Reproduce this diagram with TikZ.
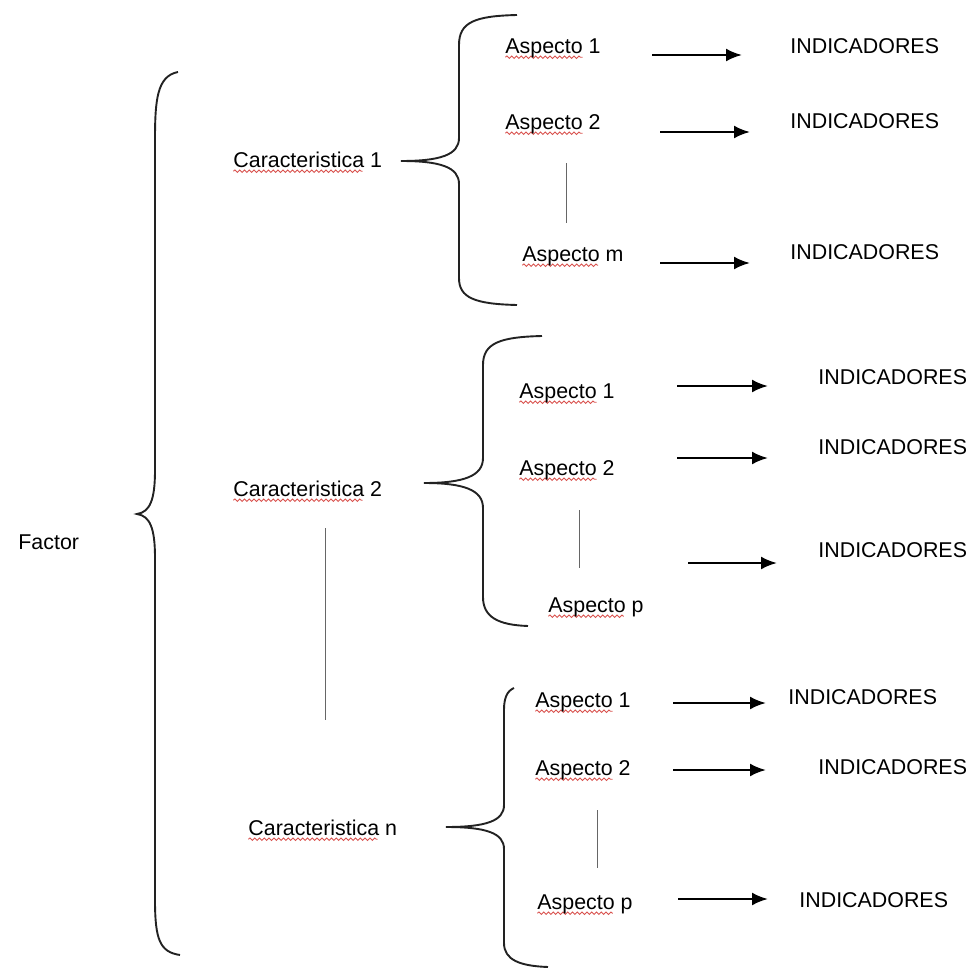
\documentclass[tikz,border=0pt]{standalone}
\usepackage{fontspec}
\setmainfont{Liberation Sans}
\usepackage{xcolor}
\usetikzlibrary{arrows.meta, calc, decorations.pathmorphing}
\definecolor{ink}{HTML}{222222}
\definecolor{rulegray}{HTML}{666666}
\definecolor{spellred}{HTML}{D9534F}

\begin{document}
\begin{tikzpicture}[x=0.5pt, y=-0.5pt,
    lbl/.style={anchor=west, inner sep=1pt, text height=7.6pt, text depth=2.4pt, font=\fontsize{10.7}{12}\selectfont},
    spell/.style={lbl, path picture={\draw[spellred, line width=0.45pt, decorate, decoration={snake, amplitude=0.6pt, segment length=2.4pt}]
        ($(path picture bounding box.south west)+(1pt,1.4pt)$) -- ($(path picture bounding box.south west)!#1!(path picture bounding box.south east)+(0,1.4pt)$);}},
    spell/.default=0.8,
    brc/.style={draw=ink, line width=0.95pt},
    vline/.style={draw=rulegray, line width=0.5pt},
    arr/.style={-{Latex[length=8pt, width=6.5pt]}, line width=1.2pt}
]
    \useasboundingbox (0,0) rectangle (976,969);

    \node[lbl] (fac) at (16,544) {Factor};
    \node[spell=0.86] (c1) at (231,162) {Caracteristica 1};
    \node[spell=0.86] (c2) at (231,491) {Caracteristica 2};
    \node[spell=0.86] (cn) at (246,830) {Caracteristica n};

    % braces
    \draw[brc] (178,72) .. controls (157,76) and (155,100) .. (155,140) -- (155,470) .. controls (155,500) and (150,512) .. (137,514)
        .. controls (150,516) and (155,528) .. (155,558) -- (155,900) .. controls (155,940) and (160,952) .. (180,955);
    \draw[brc] (517,15) .. controls (475,16) and (459,22) .. (459,45) -- (459,138) .. controls (459,155) and (440,161) .. (401,161)
        .. controls (440,161) and (459,167) .. (459,184) -- (459,278) .. controls (459,298) and (475,304) .. (517,305);
    \draw[brc] (542,336) .. controls (500,337) and (483,343) .. (483,365) -- (483,458) .. controls (483,476) and (464,483) .. (424,483)
        .. controls (464,483) and (483,490) .. (483,508) -- (483,597) .. controls (483,617) and (498,625) .. (528,626);
    \draw[brc] (514,688) .. controls (507,691) and (504,698) .. (504,710) -- (504,805) .. controls (504,821) and (486,827) .. (446,827)
        .. controls (486,827) and (504,833) .. (504,849) -- (504,943) .. controls (504,960) and (520,966) .. (548,967);

    \coordinate (d0a) at (325,528);
    \coordinate (d0b) at (325,720);
    \draw[vline] (d0a) -- (d0b);

    % caracteristica 1
    \node[spell] (a11) at (503,48) {Aspecto 1};
    \node[spell] (a12) at (503,124) {Aspecto 2};
    \node[spell=0.74] (a1m) at (520,256) {Aspecto m};
    \node[lbl] (i11) at (788,48) {INDICADORES};
    \node[lbl] (i12) at (788,123) {INDICADORES};
    \node[lbl] (i1m) at (788,254) {INDICADORES};
    \coordinate (t11) at (652,55);
    \coordinate (h11) at (742,55);
    \coordinate (t12) at (660,132);
    \coordinate (h12) at (750,132);
    \coordinate (t1m) at (660,263);
    \coordinate (h1m) at (750,263);
    \coordinate (d1a) at (566,163);
    \coordinate (d1b) at (566,223);
    \draw[arr] (t11) -- (h11);
    \draw[arr] (t12) -- (h12);
    \draw[arr] (t1m) -- (h1m);
    \draw[vline] (d1a) -- (d1b);

    % caracteristica 2
    \node[spell] (a21) at (517,393) {Aspecto 1};
    \node[spell] (a22) at (517,470) {Aspecto 2};
    \node[spell=0.78] (a2p) at (546,607) {Aspecto p};
    \node[lbl] (i21) at (816,379) {INDICADORES};
    \node[lbl] (i22) at (816,449) {INDICADORES};
    \node[lbl] (i2p) at (816,552) {INDICADORES};
    \coordinate (t21) at (677,386);
    \coordinate (h21) at (768,386);
    \coordinate (t22) at (677,458);
    \coordinate (h22) at (768,458);
    \coordinate (t2p) at (688,563);
    \coordinate (h2p) at (777,563);
    \coordinate (d2a) at (579,510);
    \coordinate (d2b) at (579,568);
    \draw[arr] (t21) -- (h21);
    \draw[arr] (t22) -- (h22);
    \draw[arr] (t2p) -- (h2p);
    \draw[vline] (d2a) -- (d2b);

    % caracteristica n
    \node[spell] (a31) at (533,702) {Aspecto 1};
    \node[spell] (a32) at (533,770) {Aspecto 2};
    \node[spell=0.78] (a3p) at (535,904) {Aspecto p};
    \node[lbl] (i31) at (786,699) {INDICADORES};
    \node[lbl] (i32) at (816,769) {INDICADORES};
    \node[lbl] (i3p) at (797,902) {INDICADORES};
    \coordinate (t31) at (673,703);
    \coordinate (h31) at (766,703);
    \coordinate (t32) at (673,770);
    \coordinate (h32) at (766,770);
    \coordinate (t3p) at (678,899);
    \coordinate (h3p) at (768,899);
    \coordinate (d3a) at (597,810);
    \coordinate (d3b) at (597,868);
    \draw[arr] (t31) -- (h31);
    \draw[arr] (t32) -- (h32);
    \draw[arr] (t3p) -- (h3p);
    \draw[vline] (d3a) -- (d3b);
\end{tikzpicture}
\end{document}
